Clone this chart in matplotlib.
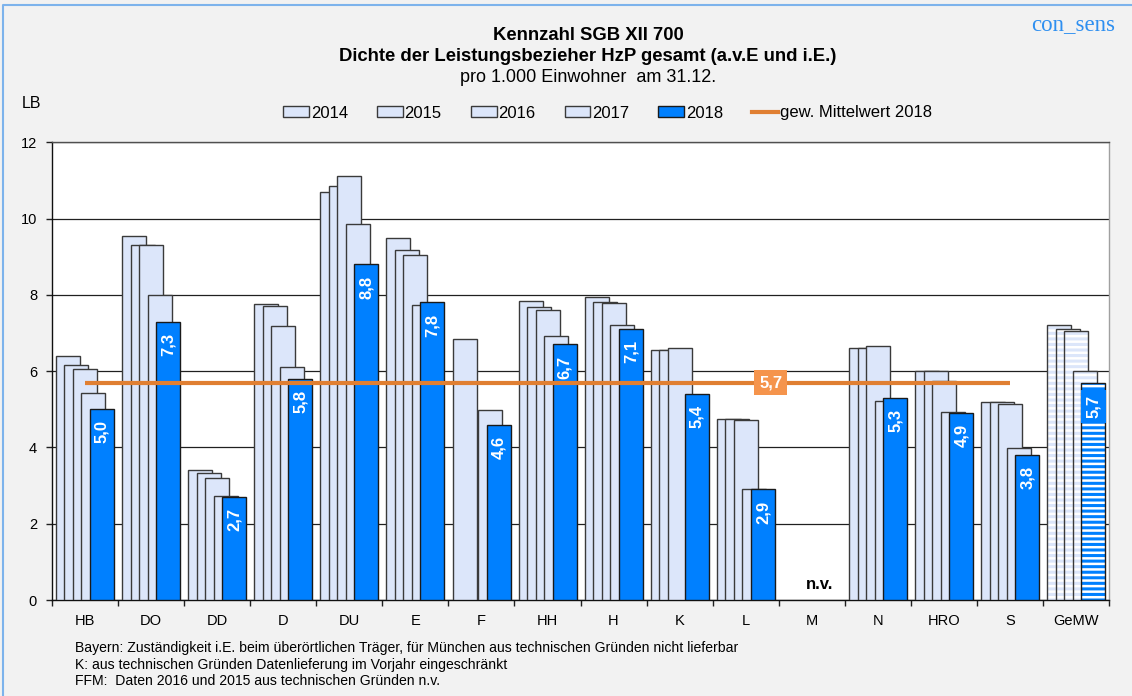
import numpy as np
import matplotlib
matplotlib.use("Agg")
import matplotlib.pyplot as plt
from matplotlib.patches import Patch
from matplotlib.lines import Line2D

# --- data -------------------------------------------------------------------
categories = ["HB", "DO", "DD", "D", "DU", "E", "F", "HH", "H", "K", "L",
              "M", "N", "HRO", "S", "GeMW"]
years = ["2014", "2015", "2016", "2017", "2018"]
nan = np.nan
v2014 = [6.4, 9.55, 3.4, 7.75, 10.7, 9.5, 6.85, 7.85, 7.95, 6.55, 4.75, nan, 6.62, 6.0, 5.2, 7.2]
v2015 = [6.15, 9.3, 3.33, 7.7, 10.85, 9.17, nan, 7.67, 7.82, 6.55, 4.75, nan, 6.6, 6.0, 5.18, 7.1]
v2016 = [6.05, 9.32, 3.2, 7.18, 11.12, 9.04, nan, 7.6, 7.78, 6.6, 4.72, nan, 6.66, 5.75, 5.14, 7.05]
v2017 = [5.42, 8.0, 2.72, 6.12, 9.85, 7.73, 4.98, 6.93, 7.21, nan, 2.91, nan, 5.23, 4.93, 3.98, 6.0]
v2018 = [5.0, 7.3, 2.7, 5.8, 8.8, 7.8, 4.6, 6.7, 7.1, 5.4, 2.9, nan, 5.3, 4.9, 3.8, 5.7]
mean_2018 = 5.7
not_available = "n.v."
footnotes = [
    "Bayern: Zuständigkeit i.E. beim überörtlichen Träger, für München aus technischen Gründen nicht lieferbar",
    "K: aus technischen Gründen Datenlieferung im Vorjahr eingeschränkt",
    "FFM:  Daten 2016 und 2015 aus technischen Gründen n.v.",
]

# --- style ------------------------------------------------------------------
BG = "#F2F2F2"
LIGHT = "#DCE6FA"
BLUE = "#0080FF"
ORANGE = "#E07F32"
ORANGE_BOX = "#F5944C"
SANS = ["Liberation Sans", "DejaVu Sans"]
NARROW = ["Liberation Sans Narrow", "Liberation Sans", "DejaVu Sans"]
plt.rcParams["font.family"] = SANS
plt.rcParams["hatch.linewidth"] = 1.8

W, H = 1132, 696
fig = plt.figure(figsize=(W / 100, H / 100), dpi=100, facecolor=BG)
x0, x1, y0, y1 = 51.7, 1109.3, 600.0, 142.3
ax = fig.add_axes([x0 / W, (H - y0) / H, (x1 - x0) / W, (y0 - y1) / H])
ax.set_facecolor("white")

series = [v2014, v2015, v2016, v2017, v2018]
n = len(categories)
xs = np.arange(n)
bar_w = 0.363
step = 0.1285
start = -0.435

for k, vals in enumerate(series):
    vals = np.asarray(vals, dtype=float)
    face = BLUE if k == 4 else LIGHT
    edge = "#1A1A1A" if k == 4 else "#3A3A3A"
    lefts = xs + start + k * step
    z = 3 + k
    bars = ax.bar(lefts, vals, width=bar_w, align="edge", color=face,
                  edgecolor=edge, linewidth=1.0, zorder=z)
    # the average column (last category) carries horizontal white stripes
    gm = bars.patches[-1]
    gm.set_hatch("---")
    gm.set_edgecolor("white")
    gm.set_linewidth(0)
    ax.bar(lefts[-1], vals[-1], width=bar_w, align="edge", fill=False,
           edgecolor=edge, linewidth=1.0, zorder=z + 0.5)

# value labels in the 2018 bars
v18 = np.asarray(v2018, dtype=float)
for i, v in enumerate(v18):
    if np.isnan(v):
        continue
    cx = xs[i] + start + 4 * step + bar_w / 2
    txt = f"{v:.1f}".replace(".", ",")
    kw = {}
    if i == n - 1:
        kw["bbox"] = dict(boxstyle="square,pad=0.3", facecolor=BLUE, edgecolor="none")
    ax.annotate(txt, (cx, v), xytext=(0, -8 if i != n - 1 else -9), textcoords="offset points",
                rotation=90, ha="center", va="top", color="white", fontsize=12,
                fontweight="bold", family=SANS, zorder=20, **kw)

# n.v. marker for the category without data
for i, v in enumerate(v18):
    if np.isnan(v):
        ax.text(xs[i] + 0.12, 0.4, not_available, ha="center", va="center",
                fontsize=12, fontweight="bold", color="black", zorder=20)

# weighted mean line with its label
ax.hlines(mean_2018, xs[0], xs[-2], color=ORANGE, linewidth=3, zorder=15)
ax.text(10.38, mean_2018, f"{mean_2018:.1f}".replace(".", ","), ha="center", va="center",
        color="white", fontsize=12, fontweight="bold", family=NARROW, zorder=16,
        bbox=dict(boxstyle="square,pad=0.3", facecolor=ORANGE_BOX, edgecolor="none"))

# axes
ax.set_xlim(-0.5, n - 0.5)
ax.set_ylim(0, 12)
ax.set_yticks(np.arange(0, 13, 2))
ax.set_yticklabels([str(t) for t in range(0, 13, 2)], fontsize=10.5)
ax.grid(axis="y", color="#202020", linewidth=0.9, zorder=1)
ax.set_axisbelow(True)
ax.set_xticks(np.arange(n + 1) - 0.5)
ax.set_xticklabels([])
ax.set_xticks(xs, minor=True)
ax.set_xticklabels(categories, minor=True, fontsize=10.5)
ax.tick_params(axis="x", which="major", direction="out", length=4, width=1, color="#202020")
ax.tick_params(axis="x", which="minor", length=0, pad=10)
ax.tick_params(axis="y", direction="out", length=4.5, width=1, color="#202020", pad=6)
ax.spines["left"].set_color("#101010")
ax.spines["bottom"].set_color("#101010")
ax.spines["top"].set_color("#505050")
ax.spines["right"].set_color("#A0A0A0")
for s in ax.spines.values():
    s.set_linewidth(1.0)

# legend
handles = [Patch(facecolor=LIGHT, edgecolor="#3A3A3A", linewidth=1.0) for _ in years[:4]]
handles.append(Patch(facecolor=BLUE, edgecolor="#1A1A1A", linewidth=1.0))
handles.append(Line2D([0], [0], color=ORANGE, linewidth=3))
labels = years + ["gew. Mittelwert 2018"]
fig.legend(handles, labels, loc="center", bbox_to_anchor=(607.5 / W, 1 - 113 / H),
           ncol=6, frameon=False, fontsize=12, handlelength=1.55, handleheight=0.6,
           handletextpad=0.1, columnspacing=1.75, borderpad=0)

# titles and annotations
fig.text(588 / W, 1 - 35 / H, "Kennzahl SGB XII 700", ha="center", va="center",
         fontsize=13.3, fontweight="bold")
fig.text(588 / W, 1 - 56.5 / H, "Dichte der Leistungsbezieher HzP gesamt (a.v.E und i.E.)",
         ha="center", va="center", fontsize=13.3, fontweight="bold")
fig.text(588 / W, 1 - 77 / H, "pro 1.000 Einwohner  am 31.12.", ha="center", va="center",
         fontsize=13)
fig.text(1115 / W, 1 - 25 / H, "con_sens", ha="right", va="center", fontsize=16.5,
         color="#2E8FF0", family=["Liberation Serif", "DejaVu Serif"])
fig.text(22 / W, 1 - 103 / H, "LB", ha="left", va="center", fontsize=11.5)
for j, line in enumerate(footnotes):
    fig.text(75 / W, 1 - (648 + 16.5 * j) / H, line, ha="left", va="center",
             fontsize=10.1, family=NARROW)

# outer frame
frame_y = 1 - 5 / H
frame_x = 3 / W
fig.add_artist(Line2D([frame_x, frame_x, 1.0], [0.0, frame_y, frame_y],
                      transform=fig.transFigure, color="#7DB3EC", linewidth=1.5))

fig.savefig("out.png", dpi=100, facecolor=BG)
